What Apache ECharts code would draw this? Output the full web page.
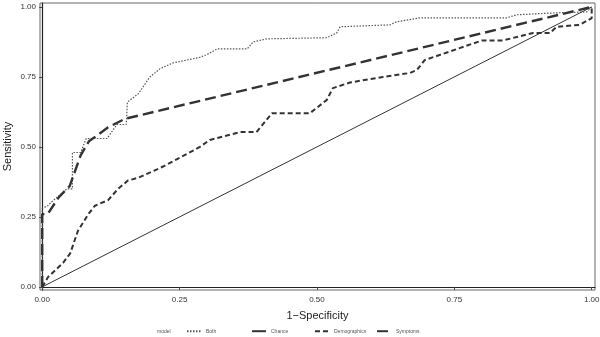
<!DOCTYPE html>
<html>
<head>
<meta charset="utf-8">
<script src="https://cdn.jsdelivr.net/npm/echarts@6/dist/echarts.min.js"></script>
<style>
  html, body { margin: 0; padding: 0; background: #fff; }
  #chart { width: 600px; height: 337px; }
</style>
</head>
<body>
<div id="chart"></div>
<script>
// ROC points: [1-specificity, sensitivity]
const bothPts = [
  [0, 0], [0, 0.28], [0.01, 0.29], [0.015, 0.3], [0.045, 0.35], [0.055, 0.35],
  [0.055, 0.48], [0.07, 0.48], [0.08, 0.53], [0.118, 0.53], [0.136, 0.58],
  [0.153, 0.58], [0.155, 0.66], [0.175, 0.69], [0.196, 0.75], [0.215, 0.78],
  [0.238, 0.8], [0.287, 0.82], [0.3, 0.83], [0.318, 0.85], [0.373, 0.85],
  [0.384, 0.875], [0.409, 0.886], [0.518, 0.89], [0.536, 0.907], [0.542, 0.929],
  [0.633, 0.936], [0.645, 0.947], [0.687, 0.961], [0.845, 0.961], [0.864, 0.972],
  [0.936, 0.979], [0.991, 0.982], [1, 1]
];
const chancePts = [[0, 0], [1, 1]];
const demoPts = [
  [0, 0], [0.011, 0.036], [0.038, 0.086], [0.051, 0.12], [0.065, 0.2],
  [0.084, 0.26], [0.096, 0.29], [0.12, 0.31], [0.138, 0.35], [0.156, 0.38],
  [0.175, 0.39], [0.209, 0.42], [0.22, 0.43], [0.287, 0.5], [0.305, 0.525],
  [0.36, 0.553], [0.39, 0.553], [0.418, 0.62], [0.487, 0.62], [0.518, 0.668],
  [0.529, 0.71], [0.56, 0.73], [0.62, 0.75], [0.669, 0.764], [0.682, 0.775],
  [0.696, 0.81], [0.8, 0.88], [0.838, 0.88], [0.893, 0.907], [0.924, 0.907],
  [0.936, 0.929], [0.978, 0.936], [1, 0.96], [1, 1]
];
const sympPts = [
  [0, 0], [0, 0.26], [0.01, 0.26], [0.03, 0.32], [0.05, 0.36], [0.07, 0.47],
  [0.085, 0.52], [0.12, 0.57], [0.15, 0.6], [1, 1]
];
const tickVals = [0, 0.25, 0.5, 0.75, 1];
const modelNames = ['Both', 'Chance', 'Demographics', 'Symptoms'];

const chart = echarts.init(document.getElementById('chart'));
const ink = '#333';
const fmt = v => v.toFixed(2);

// one legend per model so the keys sit evenly spaced like the original
const legendLeft = [186, 251, 314, 376];
const legends = modelNames.map((name, i) => ({
  data: [name],
  left: legendLeft[i], top: 328, padding: 0,
  itemWidth: 14, itemHeight: 8,
  itemStyle: { opacity: 0, borderWidth: 0 },
  textStyle: { fontSize: 5, color: '#555' }
}));

chart.setOption({
  animation: false,
  textStyle: { fontFamily: 'Liberation Sans, Arial, sans-serif' },
  grid: {
    left: 40, right: 5, top: 3, bottom: 47,
    outerBoundsMode: 'none', containLabel: false,
    show: true, borderColor: '#666', borderWidth: 1
  },
  title: {
    text: 'model', left: 157, top: 329, padding: 0,
    textStyle: { fontSize: 5, color: '#555', fontWeight: 'normal' }
  },
  legend: legends,
  xAxis: {
    type: 'value', min: -0.004, max: 1.006,
    name: '1\u2212Specificity', nameLocation: 'middle', nameGap: 20, nameMoveOverlap: false,
    nameTextStyle: { fontSize: 11, color: '#222' },
    axisLine: { show: true, lineStyle: { color: '#222', width: 1.2 } },
    axisTick: { show: true, length: 3, lineStyle: { color: '#444' }, customValues: tickVals },
    axisLabel: { fontSize: 8, color: ink, margin: 6, customValues: tickVals, formatter: fmt },
    splitLine: { show: false }
  },
  yAxis: {
    type: 'value', min: -0.011, max: 1.014,
    name: 'Sensitivity', nameLocation: 'middle', nameGap: 27, nameRotate: 90, nameMoveOverlap: false,
    nameTextStyle: { fontSize: 11, color: '#222' },
    axisLine: { show: true, lineStyle: { color: '#222', width: 1.2 } },
    axisTick: { show: true, length: 3, lineStyle: { color: '#444' }, customValues: tickVals },
    axisLabel: { fontSize: 8, color: ink, margin: 4, customValues: tickVals, formatter: fmt },
    splitLine: { show: false }
  },
  series: [
    {
      name: 'Both', type: 'line', data: bothPts, symbol: 'none',
      lineStyle: { color: '#555', width: 1.2, type: [1.5, 1.5] }, itemStyle: { color: '#555' }
    },
    {
      name: 'Chance', type: 'line', data: chancePts, symbol: 'none',
      lineStyle: { color: ink, width: 1 }, itemStyle: { color: ink }
    },
    {
      name: 'Demographics', type: 'line', data: demoPts, symbol: 'none',
      lineStyle: { color: ink, width: 2, type: [5, 3] }, itemStyle: { color: ink }
    },
    {
      name: 'Symptoms', type: 'line', data: sympPts, symbol: 'none',
      lineStyle: { color: ink, width: 2.4, type: [11, 5] }, itemStyle: { color: ink }
    }
  ]
});
</script>
</body>
</html>
